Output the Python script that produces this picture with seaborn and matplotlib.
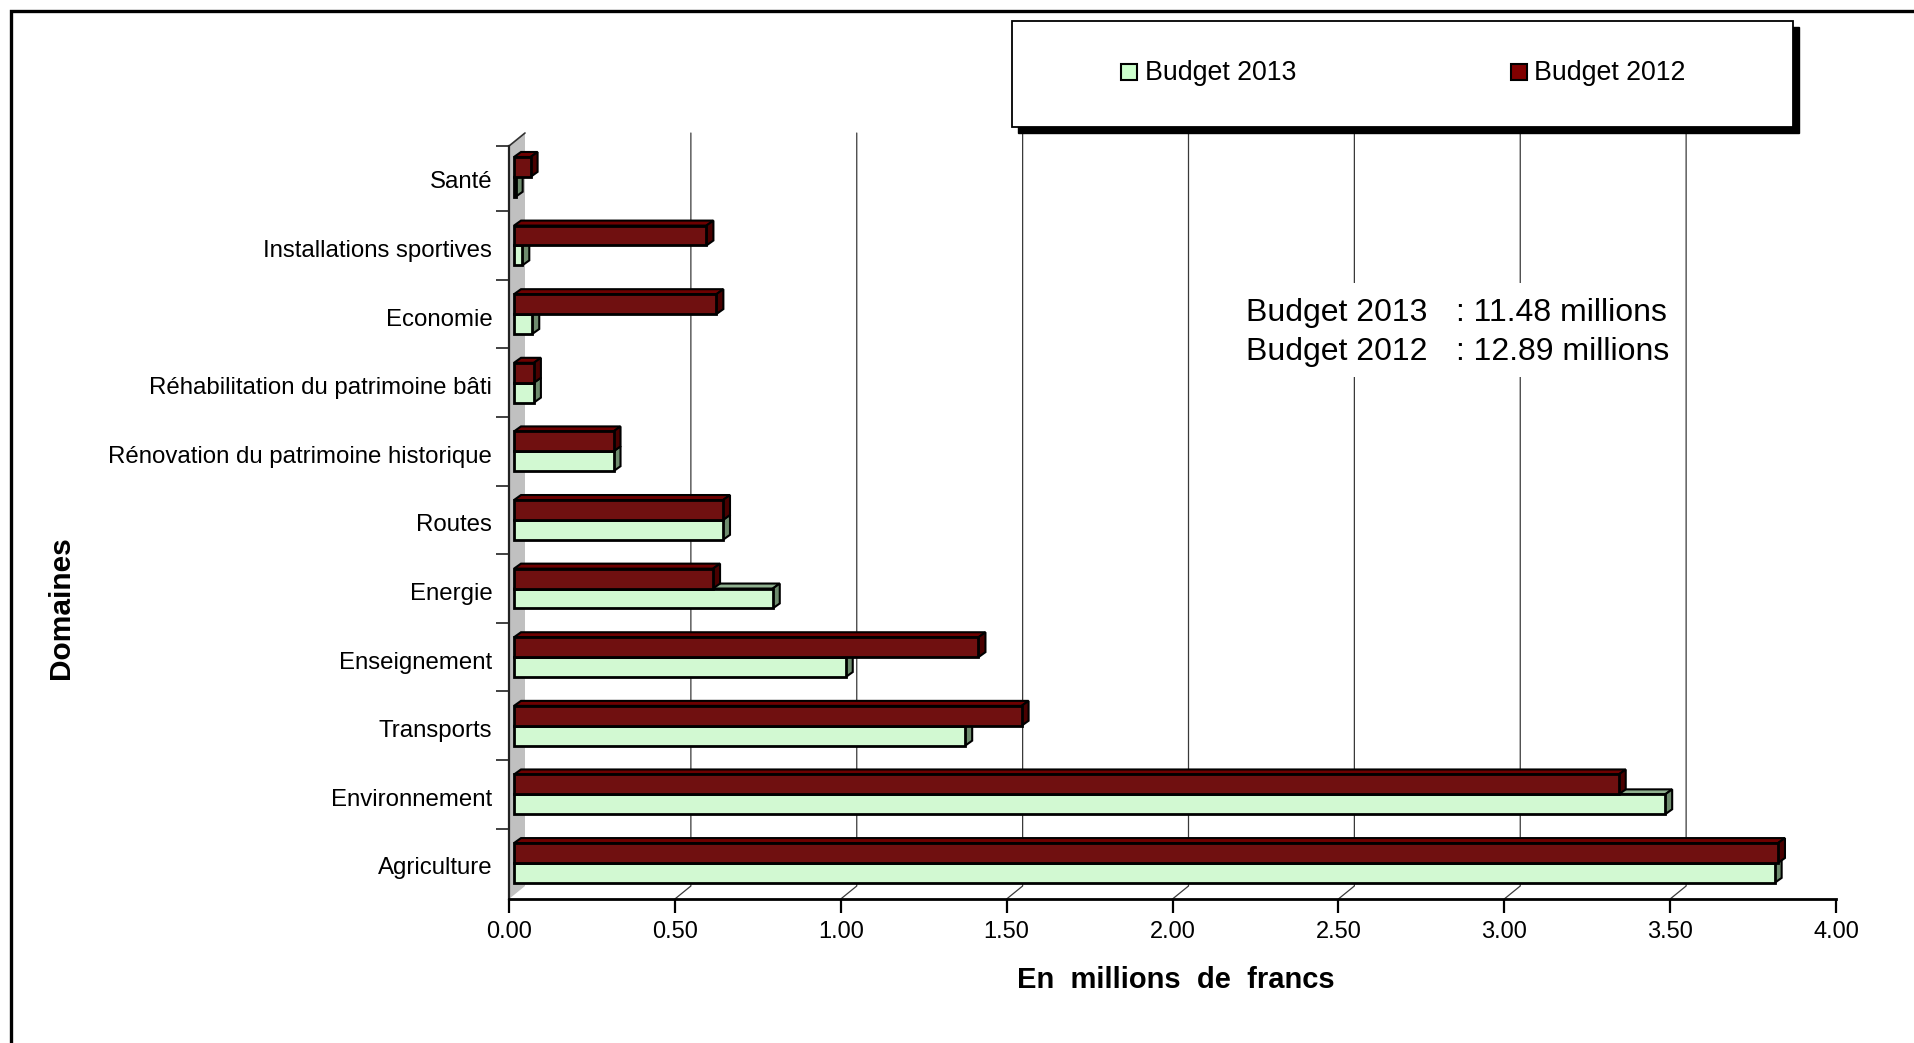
import numpy as np
import pandas as pd
import matplotlib
matplotlib.use("Agg")
import matplotlib.pyplot as plt
import seaborn as sns
from matplotlib.patches import Rectangle, Polygon
from matplotlib.lines import Line2D
from matplotlib.transforms import IdentityTransform, ScaledTranslation

# ---------------- data ----------------
categories = ["Santé", "Installations sportives", "Economie",
              "Réhabilitation du patrimoine bâti",
              "Rénovation du patrimoine historique", "Routes", "Energie",
              "Enseignement", "Transports", "Environnement", "Agriculture"]
budget_2013 = [0.005, 0.025, 0.055, 0.06, 0.30, 0.63, 0.78, 1.00, 1.36, 3.47, 3.80]
budget_2012 = [0.05, 0.58, 0.61, 0.06, 0.30, 0.63, 0.60, 1.40, 1.53, 3.33, 3.81]
series_names = ["Budget 2012", "Budget 2013"]
x_ticks = [0.0, 0.5, 1.0, 1.5, 2.0, 2.5, 3.0, 3.5, 4.0]
summary_names = ["Budget 2013", "Budget 2012"]
summary_values = [": 11.48 millions", ": 12.89 millions"]

df = pd.DataFrame({
    "Domaine": categories * 2,
    "Montant": budget_2012 + budget_2013,
    "Budget": [series_names[0]] * len(categories) + [series_names[1]] * len(categories),
})

# ---------------- style ----------------
sns.set_theme(style="white")
plt.rcParams["font.family"] = ["Liberation Sans", "DejaVu Sans"]

RED = "#800000"
GREEN = "#CCFFCC"
face_cols = {
    "Budget 2012": ("#6e0000", "#4a0000"),
    "Budget 2013": ("#8fb08f", "#6e8c6e"),
}

W, H = 1914, 1043
fig = plt.figure(figsize=(W / 100, H / 100), dpi=100)
fig.patch.set_facecolor("white")

ax_left, ax_right, ax_top, ax_bot = 509, 1836, 146, 899
ax = fig.add_axes([ax_left / W, 1 - ax_bot / H, (ax_right - ax_left) / W, (ax_bot - ax_top) / H])
ax.set_facecolor("none")

sns.barplot(data=df, y="Domaine", x="Montant", hue="Budget",
            hue_order=series_names, order=categories,
            palette={"Budget 2012": RED, "Budget 2013": GREEN},
            orient="h", width=0.58, edgecolor="black", linewidth=2.0,
            errorbar=None, legend=False, ax=ax)

ax.set_xlim(0, 4)
ax.set_ylim(10.525, -0.45)
ax.set_autoscale_on(False)
ax.set_xlabel("")
ax.set_ylabel("")

# ticks
ax.set_xticks(x_ticks)
ax.set_xticklabels([f"{v:.2f}" for v in x_ticks])
ax.tick_params(axis="x", which="major", bottom=True, length=10, width=1.6,
               direction="out", pad=6, labelsize=17, colors="black")
ax.set_yticks(range(len(categories)))
ax.set_yticklabels(categories)
ax.tick_params(axis="y", which="major", length=0, pad=12, labelsize=17.3, labelcolor="black")
ax.set_yticks([-0.45] + [k + 0.5 for k in range(len(categories) - 1)], minor=True)
ax.tick_params(axis="y", which="minor", left=True, length=9.5, width=1.3,
               direction="out", color="#333333")
lab_shift = ScaledTranslation(0, -3 / 100, fig.dpi_scale_trans)
for lab in ax.get_yticklabels():
    lab.set_transform(lab.get_transform() + lab_shift)

for s in ["top", "right"]:
    ax.spines[s].set_visible(False)
ax.spines["left"].set_linewidth(1.6)
ax.spines["left"].set_color("#222222")
ax.spines["bottom"].set_linewidth(2.0)
ax.spines["bottom"].set_color("black")
ax.spines["bottom"].set_zorder(6)

ident = IdentityTransform()
dH = H  # display y = H - image y

# back-plane offset
bdx, bdy = 16, 13
y_front_bot = dH - ax_bot
y_front_top = dH - ax_top

# side wall
wall = Polygon([(ax_left, y_front_bot), (ax_left, y_front_top),
                (ax_left + bdx, y_front_top + bdy), (ax_left + bdx, y_front_bot + bdy)],
               closed=True, facecolor="#C0C0C0", edgecolor="none", transform=ident,
               zorder=0.5, clip_on=False)
ax.add_artist(wall)
ax.add_artist(Line2D([ax_left, ax_left + bdx], [y_front_top, y_front_top + bdy],
                     color="#333333", lw=1.2, transform=ident, zorder=0.6, clip_on=False))

# gridlines on back plane
for v in x_ticks[1:-1]:
    xf = ax.transData.transform((v, 0))[0]
    ax.add_artist(Line2D([xf, xf + bdx, xf + bdx],
                         [y_front_bot, y_front_bot + bdy, y_front_top + bdy],
                         color="#3a3a3a", lw=0.9, transform=ident, zorder=0.7, clip_on=False))

# bars: shift front faces slightly, add 3D top and side faces
shift = ScaledTranslation(5 / 100, 0, fig.dpi_scale_trans)
fdx, fdy = 7, 5
for name, cont in zip(series_names, ax.containers):
    top_col, side_col = face_cols[name]
    zf = 5 if name == "Budget 2012" else 3
    for p in cont.patches:
        p.set_transform(ax.transData + shift)
        p.set_zorder(zf + 0.5)
        x0, y0 = p.get_x(), p.get_y()
        w, h = p.get_width(), p.get_height()
        (ax0, ay0) = ax.transData.transform((x0, y0))
        (ax1, ay1) = ax.transData.transform((x0 + w, y0 + h))
        l, r = min(ax0, ax1) + 5, max(ax0, ax1) + 5
        t, b = max(ay0, ay1), min(ay0, ay1)
        topf = Polygon([(l, t), (r, t), (r + fdx, t + fdy), (l + fdx, t + fdy)], closed=True,
                       facecolor=top_col, edgecolor="black", lw=1.5, joinstyle="miter",
                       transform=ident, zorder=zf, clip_on=False)
        sidef = Polygon([(r, b), (r, t), (r + fdx, t + fdy), (r + fdx, b + fdy)], closed=True,
                        facecolor=side_col, edgecolor="black", lw=1.5, joinstyle="miter",
                        transform=ident, zorder=zf, clip_on=False)
        ax.add_artist(topf)
        ax.add_artist(sidef)

# axis titles
fig.text(1176 / W, 1 - 980 / H, "En  millions  de  francs", ha="center", va="center",
         fontsize=21, fontweight="bold", color="black")
fig.text(61 / W, 1 - 608 / H, "Domaines", ha="center", va="center", rotation=90,
         fontsize=21.5, fontweight="bold", color="black")

# summary annotation on white background (hides gridlines)
ax.add_artist(Rectangle((1240, dH - 377), 440, 94, facecolor="white", edgecolor="none",
                        transform=ident, zorder=1, clip_on=False))
for i, (nm, val) in enumerate(zip(summary_names, summary_values)):
    yy = 1 - (313 + 39 * i) / H
    fig.text(1246 / W, yy, nm, ha="left", va="center", fontsize=23, color="black")
    fig.text(1456 / W, yy, val, ha="left", va="center", fontsize=23, color="black")

# legend box with shadow
lx0, lx1, ly0, ly1 = 1012, 1793, 21, 127
fig.add_artist(Rectangle((lx0 + 6, dH - ly1 - 6), lx1 - lx0, ly1 - ly0, facecolor="black",
                         edgecolor="black", transform=ident, zorder=1))
fig.add_artist(Rectangle((lx0, dH - ly1), lx1 - lx0, ly1 - ly0, facecolor="white",
                         edgecolor="black", lw=1.3, transform=ident, zorder=2))
leg_items = [("Budget 2013", GREEN, 1121, 1145), ("Budget 2012", RED, 1511, 1534)]
for lab, col, sx, tx in leg_items:
    fig.add_artist(Rectangle((sx, dH - 80), 16, 16, facecolor=col, edgecolor="black",
                             lw=1.5, transform=ident, zorder=3))
    fig.text(tx / W, 1 - 73 / H, lab, ha="left", va="center", fontsize=19.3,
             color="black", zorder=4)

# outer frame
fig.add_artist(Rectangle((10.5, -30), W + 40, dH - 10.5 + 30, facecolor="none",
                         edgecolor="black", lw=2.4, transform=ident, zorder=10))

fig.savefig("out.png", dpi=100, facecolor="white")
